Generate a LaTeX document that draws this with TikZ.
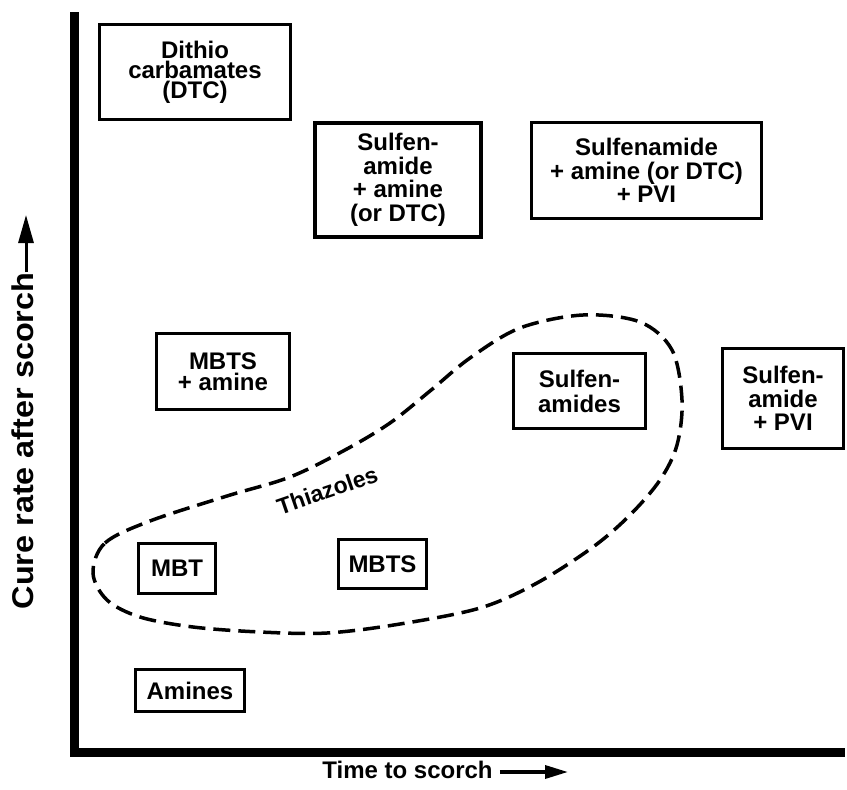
\documentclass[tikz,border=0pt]{standalone}
\usepackage{fontspec}
\setmainfont{Liberation Sans}
\usetikzlibrary{arrows.meta}
\begin{document}
\begin{tikzpicture}[x=1pt,y=-1pt,
  box/.style={draw, line width=3pt, align=center, inner sep=0pt, font=\bfseries\fontsize{24}{23.5}\selectfont},
  axis/.style={line width=9pt, line join=miter},
  loopline/.style={line width=3.5pt, dash pattern=on 17pt off 8pt},
  lab/.style={inner sep=0pt, font=\bfseries\fontsize{24}{24}\selectfont},
  yarrow/.style={line width=3pt, -{Triangle[length=28pt,width=15pt]}},
  xarrow/.style={line width=3.5pt, -{Triangle[length=23pt,width=13pt]}},
]
\useasboundingbox (0,0) rectangle (847,790);

% axes
\coordinate (ytop) at (74.5,12);
\coordinate (origin) at (74.5,752);
\coordinate (xend) at (845,752);
\draw[axis] (ytop) -- (origin) -- (xend);

% boxes
\node[box, minimum width=191pt, minimum height=95pt, font=\bfseries\fontsize{24}{20}\selectfont] (dtc) at (195,72) {Dithio\\carbamates\\(DTC)};
\node[box, line width=3.8pt, minimum width=166pt, minimum height=114pt] (sam) at (398,180) {Sulfen-\\amide\\+ amine\\(or DTC)};
\node[box, minimum width=230pt, minimum height=96pt] (sapvi) at (646.5,170.5) {Sulfenamide\\+ amine (or DTC)\\+ PVI};
\node[box, minimum width=133pt, minimum height=76pt, font=\bfseries\fontsize{24}{21}\selectfont] (mbtsam) at (223,371.5) {MBTS\\+ amine};
\node[box, minimum width=132pt, minimum height=75pt, font=\bfseries\fontsize{24}{25}\selectfont] (sulf) at (579.5,391) {Sulfen-\\amides};
\node[box, minimum width=121pt, minimum height=100pt] (spvi) at (783,398.5) {Sulfen-\\amide\\+ PVI};
\node[box, minimum width=77pt, minimum height=50pt] (mbt) at (177,568.5) {MBT};
\node[box, minimum width=88pt, minimum height=49pt] (mbts) at (382.5,564) {MBTS};
\node[box, minimum width=109pt, minimum height=42pt] (amines) at (190,690.5) {Amines};

% thiazoles loop
\draw[loopline] plot[smooth cycle, tension=0.55] coordinates {
  (93,573) (105,543) (150,521) (227,496) (290,477) (345,450) (390,423)
  (430,391) (470,358) (520,328) (583,315) (640,322) (672,350) (682,400)
  (677,445) (660,480) (630,515) (593,547) (537,583) (480,608) (400,624)
  (327,633) (260,632) (193,627) (140,617) (107,600)};
\node[lab, font=\bfseries\fontsize{23}{23}\selectfont, rotate=19, anchor=base] (thz) at (330,498) {Thiazoles};

% axis labels
\node[lab, anchor=base] (xlab) at (407.5,778) {Time to scorch};
\coordinate (xtip) at (568,772);
\draw[xarrow] ([xshift=7pt]xlab.east |- xtip) -- (xtip);

\node[lab, rotate=90, anchor=base, font=\bfseries\fontsize{30}{30}\selectfont] (ylab) at (33,441) {\scalebox{1.08}[1]{Cure rate after scorch}};
\coordinate (ytip) at (26,215);
\draw[yarrow] (ylab.east -| ytip) -- (ytip);
\end{tikzpicture}
\end{document}
